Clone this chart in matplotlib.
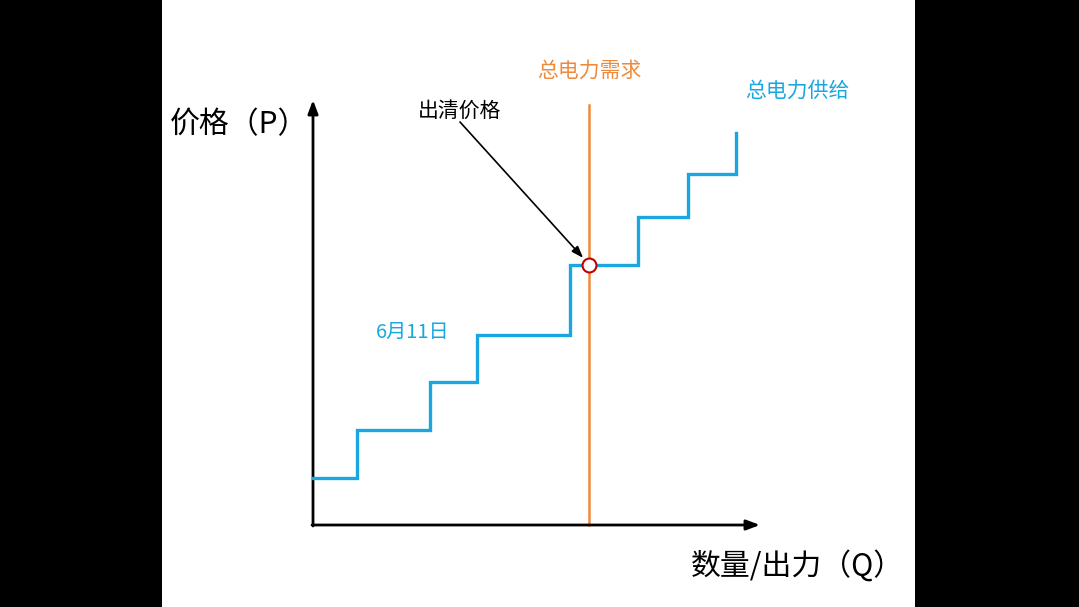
import matplotlib
matplotlib.use("Agg")
import matplotlib.pyplot as plt

plt.rcParams['font.family'] = ['Noto Sans CJK SC', 'DejaVu Sans']

# Data (quantity / price in arbitrary units)
step_q = [0, 44, 117, 164, 257, 325, 375, 423]
step_p = [47, 95, 143, 190, 260, 308, 351, 392]
demand_q = 276
demand_top = 420
clear_price = 260

blue = '#1AA7E0'
orange = '#EE8A3C'

fig = plt.figure(figsize=(10.79, 6.07), dpi=100, facecolor='black')
ax = fig.add_axes([162/1079, 0, (915-162)/1079, 1])
ax.set_facecolor('white')
ax.set_xlim(-151, 602)
ax.set_ylim(-82, 525)
for s in ax.spines.values():
    s.set_visible(False)
ax.set_xticks([]); ax.set_yticks([])

# axes arrows
ax.annotate('', xy=(0, 425), xytext=(0, -1),
            arrowprops=dict(arrowstyle='-|>,head_length=0.8,head_width=0.3', color='black', lw=2.0, shrinkA=0, shrinkB=0))
ax.annotate('', xy=(447, 0), xytext=(-1, 0),
            arrowprops=dict(arrowstyle='-|>,head_length=0.8,head_width=0.3', color='black', lw=2.0, shrinkA=0, shrinkB=0))

# supply step
ax.step(step_q, step_p, where='post', color=blue, lw=2.4, solid_joinstyle='miter', zorder=3)
# demand
ax.plot([demand_q, demand_q], [0, demand_top], color=orange, lw=1.8, zorder=2)
# clearing point
ax.plot([demand_q], [clear_price], marker='o', ms=10, mfc='white', mec='#C00000', mew=1.5, zorder=5)

# annotation
ax.annotate('', xy=(demand_q - 4, clear_price + 5), xytext=(147, 403),
            arrowprops=dict(arrowstyle='-|>,head_length=0.7,head_width=0.25', color='black', lw=1.2, shrinkA=0, shrinkB=2))
ax.text(147, 414, '出清价格', fontsize=15, ha='center', va='center', color='black')

ax.text(-143, 400, '价格（P）', fontsize=21.5, ha='left', va='center', color='black')
ax.text(378, -41, '数量/出力（Q）', fontsize=21.5, ha='left', va='center', color='black')
ax.text(276, 454, '总电力需求', fontsize=15, ha='center', va='center', color=orange)
ax.text(484, 434, '总电力供给', fontsize=15, ha='center', va='center', color=blue)
ax.text(100, 193, '6月11日', fontsize=14.5, ha='center', va='center', color=blue)

fig.savefig('out.png', dpi=100, facecolor='black')
